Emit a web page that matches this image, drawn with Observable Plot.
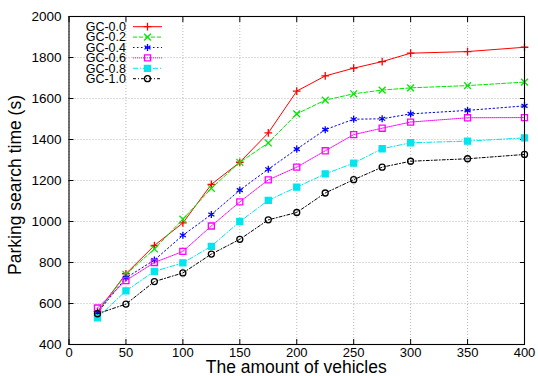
<!DOCTYPE html>
<html><head><meta charset="utf-8">
<script src="https://cdn.jsdelivr.net/npm/d3@7"></script>
<script src="https://cdn.jsdelivr.net/npm/@observablehq/plot@0.6"></script>
<style>
html,body{margin:0;padding:0;background:#fff;}
svg{font-family:"Liberation Sans",Arial,sans-serif;}
</style></head>
<body><div id="chart"></div>
<script>
const vehicles = [25,50,75,100,125,150,175,200,225,250,275,300,350,400];
const gc00 = [560,745,883,993,1181,1289,1432,1636,1710,1748,1780,1821,1829,1850];
const gc02 = [555,742,866,1011,1162,1289,1383,1525,1592,1623,1641,1652,1663,1680];
const gc04 = [555,725,812,933,1034,1153,1255,1353,1448,1499,1501,1525,1542,1564];
const gc06 = [578,712,800,854,978,1096,1203,1265,1345,1424,1455,1485,1506,1507];
const gc08 = [530,662,757,798,879,1000,1103,1168,1232,1285,1355,1384,1392,1408];
const gc10 = [550,597,707,749,841,913,1008,1044,1139,1204,1265,1294,1306,1327];
const seriesNames = ["GC-0.0","GC-0.2","GC-0.4","GC-0.6","GC-0.8","GC-1.0"];
const xTicks = [0,50,100,150,200,250,300,350,400];
const yTicks = [400,600,800,1000,1200,1400,1600,1800,2000];
const xLabel = "The amount of vehicles";
const yLabel = "Parking search time (s)";

const styles = [
  {color:"#ff0000", dash:null, symbol:"plus", r:2.6, fill:"none"},
  {color:"#00e800", dash:"4,2", symbol:"times", r:3.2, fill:"none"},
  {color:"#0000ff", dash:"1.5,2.5", symbol:"asterisk", r:3.3, fill:"none"},
  {color:"#ff00ff", dash:"1,1", symbol:"square", r:3.4, fill:"none"},
  {color:"#00e5ee", dash:"5,2,1,2", symbol:"square", r:3.4, fill:"#00e5ee"},
  {color:"#000000", dash:"3,2,1,2", symbol:"circle", r:3, fill:"none"}
];
const values = [gc00,gc02,gc04,gc06,gc08,gc10];
const series = seriesNames.map((name,i)=>({name, style:styles[i], data: vehicles.map((x,j)=>({x, y: values[i][j]}))}));

const W = 538, H = 376;
const mL = 68.5, mR = 14, mT = 16, mB = 32;
const fmt = d3.format("d");

const marks = [
  Plot.gridX(xTicks, {stroke:"#b8b8b8", strokeOpacity:1, strokeDasharray:"1,2"}),
  Plot.gridY(yTicks, {stroke:"#b8b8b8", strokeOpacity:1, strokeDasharray:"1,2"}),
  Plot.axisX(xTicks, {anchor:"bottom", tickSize:-5, tickPadding:8.5, fontSize:13, label:null, tickFormat:fmt}),
  Plot.axisX(xTicks, {anchor:"top", tickSize:-5, tickFormat:()=>"", label:null}),
  Plot.axisY(yTicks, {anchor:"left", tickSize:-5, tickPadding:12.5, fontSize:13.5, label:null, tickFormat:fmt}),
  Plot.axisY(yTicks, {anchor:"right", tickSize:-5, tickFormat:()=>"", label:null}),
];
for (const s of series) {
  marks.push(Plot.line(s.data, {x:"x", y:"y", stroke:s.style.color, strokeWidth:1, strokeDasharray:s.style.dash}));
  marks.push(Plot.dot(s.data, {x:"x", y:"y", symbol:s.style.symbol, r:s.style.r, stroke:s.style.color, fill:s.style.fill, strokeWidth:1.3}));
}
marks.push(Plot.frame({stroke:"#000", strokeWidth:1.1}));

const plot = Plot.plot({
  width: W, height: H,
  marginLeft: mL, marginRight: mR, marginTop: mT, marginBottom: mB,
  style: {fontFamily:"'Liberation Sans',Arial,sans-serif", fontSize:"13px", color:"#000", background:"#fff"},
  x: {domain:[0,400], label:null},
  y: {domain:[400,2000], label:null},
  marks
});
document.getElementById("chart").appendChild(plot);

const svg = d3.select(plot);
svg.append("text").attr("x", (mL + W - mR)/2).attr("y", 373)
  .attr("text-anchor","middle").attr("font-size",17.5).attr("fill","#000").text(xLabel);
svg.append("text").attr("transform", `translate(21,185) rotate(-90)`)
  .attr("text-anchor","middle").attr("font-size",17.5).attr("fill","#000").text(yLabel);

const symMap = {plus:d3.symbolPlus, times:d3.symbolTimes, asterisk:d3.symbolAsterisk, square:d3.symbolSquare, circle:d3.symbolCircle};
const leg = svg.append("g");
series.forEach((s,i)=>{
  const y = 26.7 + i*10.4;
  leg.append("text").attr("x",126).attr("y",y).attr("dy","0.35em").attr("text-anchor","end")
    .attr("font-size",12.5).attr("fill","#000").text(s.name);
  leg.append("line").attr("x1",133).attr("x2",162).attr("y1",y).attr("y2",y)
    .attr("stroke",s.style.color).attr("stroke-width",1).attr("stroke-dasharray",s.style.dash);
  leg.append("path").attr("transform",`translate(147.5,${y})`)
    .attr("d", d3.symbol(symMap[s.style.symbol], Math.PI*s.style.r*s.style.r)())
    .attr("stroke",s.style.color).attr("fill",s.style.fill).attr("stroke-width",1.3);
});
</script></body></html>
